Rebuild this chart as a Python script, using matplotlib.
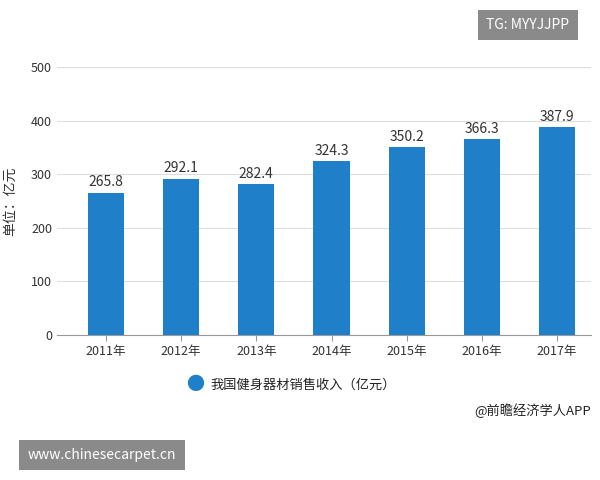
import matplotlib
matplotlib.use("Agg")
import matplotlib.pyplot as plt

years = ["2011年", "2012年", "2013年", "2014年", "2015年", "2016年", "2017年"]
values = [265.8, 292.1, 282.4, 324.3, 350.2, 366.3, 387.9]
yticks = [0, 100, 200, 300, 400, 500]

plt.rcParams['font.family'] = ['Noto Sans CJK SC', 'DejaVu Sans']
fig = plt.figure(figsize=(6, 4.8), dpi=100)
ax = fig.add_axes([0.095, 0.302, 0.89, 0.558])
color = "#1f7fc9"
x = range(len(years))
ax.bar(x, values, width=0.48, color=color, zorder=3)
for i, v in zip(x, values):
    ax.text(i, v + 6, f"{v}", ha="center", va="bottom", fontsize=10, color="#333333")
ax.set_xticks(list(x))
ax.set_xticklabels(years, fontsize=9, color="#333333")
ax.set_yticks(yticks)
ax.set_yticklabels([str(t) for t in yticks], fontsize=9, color="#333333")
ax.set_ylim(0, 500)
ax.set_xlim(-0.65, 6.45)
ax.grid(axis="y", color="#dddddd", lw=0.8, zorder=0)
for s in ["top", "right", "left"]:
    ax.spines[s].set_visible(False)
ax.spines["bottom"].set_color("#999999")
ax.tick_params(axis="y", length=0)
ax.tick_params(axis="x", length=4, color="#999999")
fig.text(0.017, 0.58, "单位：亿元", rotation=90, ha="center", va="center", fontsize=10, color="#333333")

fig.text(0.325, 0.198, "●", color=color, fontsize=13, ha="center", va="center")
fig.text(0.35, 0.198, "我国健身器材销售收入（亿元）", fontsize=9.5, ha="left", va="center", color="#222222")
fig.text(0.985, 0.145, "@前瞻经济学人APP", fontsize=9.5, ha="right", va="center", color="#222222")

fig.text(0.88, 0.948, "TG: MYYJJPP", fontsize=10, color="white", ha="center", va="center",
         bbox=dict(boxstyle="square,pad=0.6", fc="#8a8a8a", ec="none"))
fig.text(0.17, 0.052, "www.chinesecarpet.cn", fontsize=10, color="white", ha="center", va="center",
         bbox=dict(boxstyle="square,pad=0.6", fc="#8a8a8a", ec="none"))
fig.savefig("out.png", dpi=100)
